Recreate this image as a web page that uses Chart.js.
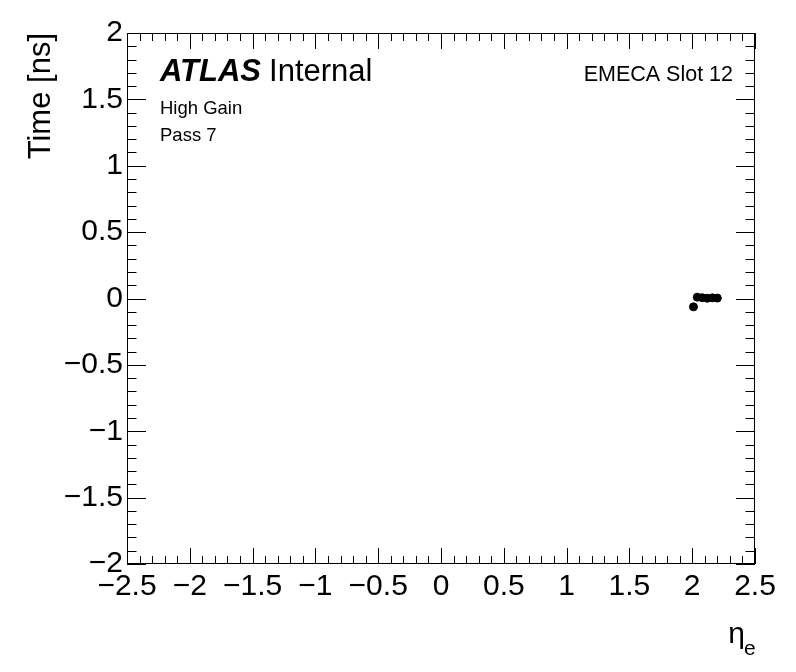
<!DOCTYPE html>
<html>
<head>
<meta charset="utf-8">
<script src="https://cdn.jsdelivr.net/npm/chart.js@4.4.1/dist/chart.umd.min.js"></script>
<style>
  html, body { margin: 0; padding: 0; background: #fff; }
  #wrap { width: 796px; height: 672px; }
</style>
</head>
<body>
<div id="wrap"><canvas id="c" width="796" height="672"></canvas></div>
<script>
// eta of each cell and its time offset
var etaValues = [2.01, 2.04, 2.08, 2.12, 2.16, 2.20];
var timeValues = [-0.063, 0.010, 0.006, 0.002, 0.005, 0.003];

var xTicks = [-2.5, -2, -1.5, -1, -0.5, 0, 0.5, 1, 1.5, 2, 2.5];
var yTicks = [-2, -1.5, -1, -0.5, 0, 0.5, 1, 1.5, 2];

var FONT = '"Liberation Sans", Arial, Helvetica, sans-serif';

function fmt(v) {
  return String(v).replace('-', '\u2212');
}

// ROOT style frame: ticks pointing inward on all four sides
var frameTicks = {
  id: 'frameTicks',
  afterDraw: function (chart) {
    var ctx = chart.ctx, a = chart.chartArea;
    var xs = chart.scales.x, ys = chart.scales.y;
    ctx.save();
    ctx.strokeStyle = '#000';
    ctx.lineWidth = 1;
    ctx.strokeRect(a.left + 0.5, a.top + 0.5, a.right - a.left - 1, a.bottom - a.top - 1);
    ctx.beginPath();
    var i, v, p, len;
    for (i = -25; i <= 25; i++) {
      v = i / 10;
      p = Math.round(xs.getPixelForValue(v)) + 0.5;
      len = (i % 5 === 0) ? 16 : 8;
      ctx.moveTo(p, a.bottom); ctx.lineTo(p, a.bottom - len);
      ctx.moveTo(p, a.top); ctx.lineTo(p, a.top + len);
    }
    for (i = -20; i <= 20; i++) {
      v = i / 10;
      p = Math.round(ys.getPixelForValue(v)) + 0.5;
      len = (i % 5 === 0) ? 19 : 9.5;
      ctx.moveTo(a.left, p); ctx.lineTo(a.left + len, p);
      ctx.moveTo(a.right, p); ctx.lineTo(a.right - len, p);
    }
    ctx.stroke();

    // labels
    ctx.fillStyle = '#000';
    ctx.textBaseline = 'alphabetic';
    ctx.textAlign = 'left';
    ctx.font = 'bold italic 31px ' + FONT;
    ctx.fillText('ATLAS', 160, 81);
    var w = ctx.measureText('ATLAS').width;
    ctx.font = '31px ' + FONT;
    ctx.fillText('Internal', 160 + w + 8, 81);
    ctx.font = '18.5px ' + FONT;
    ctx.fillText('High Gain', 160, 114);
    ctx.fillText('Pass 7', 160, 141);
    ctx.textAlign = 'right';
    ctx.font = '21.5px ' + FONT;
    ctx.fillText('EMECA Slot 12', 733, 81);

    // axis titles
    ctx.font = '30px ' + FONT;
    ctx.textAlign = 'right';
    ctx.fillText('\u03b7', 745, 643);
    ctx.font = '21px ' + FONT;
    ctx.textAlign = 'left';
    ctx.fillText('e', 744, 655);
    ctx.translate(50, 33);
    ctx.rotate(-Math.PI / 2);
    ctx.font = '31px ' + FONT;
    ctx.textAlign = 'right';
    ctx.fillText('Time [ns]', 0, 0);
    ctx.restore();
  }
};

new Chart(document.getElementById('c'), {
  type: 'scatter',
  data: {
    datasets: [{
      data: etaValues.map(function (x, i) { return { x: x, y: timeValues[i] }; }),
      backgroundColor: '#000',
      borderColor: '#000',
      pointRadius: 4,
      pointHoverRadius: 4
    }]
  },
  options: {
    responsive: false,
    animation: false,
    events: [],
    layout: { padding: { top: 33, right: 41, left: 0, bottom: 0 } },
    plugins: { legend: { display: false }, tooltip: { enabled: false } },
    scales: {
      x: {
        type: 'linear', min: -2.5, max: 2.5,
        afterBuildTicks: function (s) { s.ticks = xTicks.map(function (v) { return { value: v }; }); },
        afterFit: function (s) { s.height = 108; },
        grid: { display: false, drawTicks: false },
        border: { display: false },
        ticks: {
          color: '#000', padding: 5, maxRotation: 0, autoSkip: false,
          font: { family: FONT, size: 30 },
          callback: function (v) { return fmt(v); }
        }
      },
      y: {
        type: 'linear', min: -2, max: 2,
        afterBuildTicks: function (s) { s.ticks = yTicks.map(function (v) { return { value: v }; }); },
        afterFit: function (s) { s.width = 127; },
        grid: { display: false, drawTicks: false },
        border: { display: false },
        ticks: {
          color: '#000', padding: 4, autoSkip: false,
          font: { family: FONT, size: 30 },
          callback: function (v) { return fmt(v); }
        }
      }
    }
  },
  plugins: [frameTicks]
});
</script>
</body>
</html>
